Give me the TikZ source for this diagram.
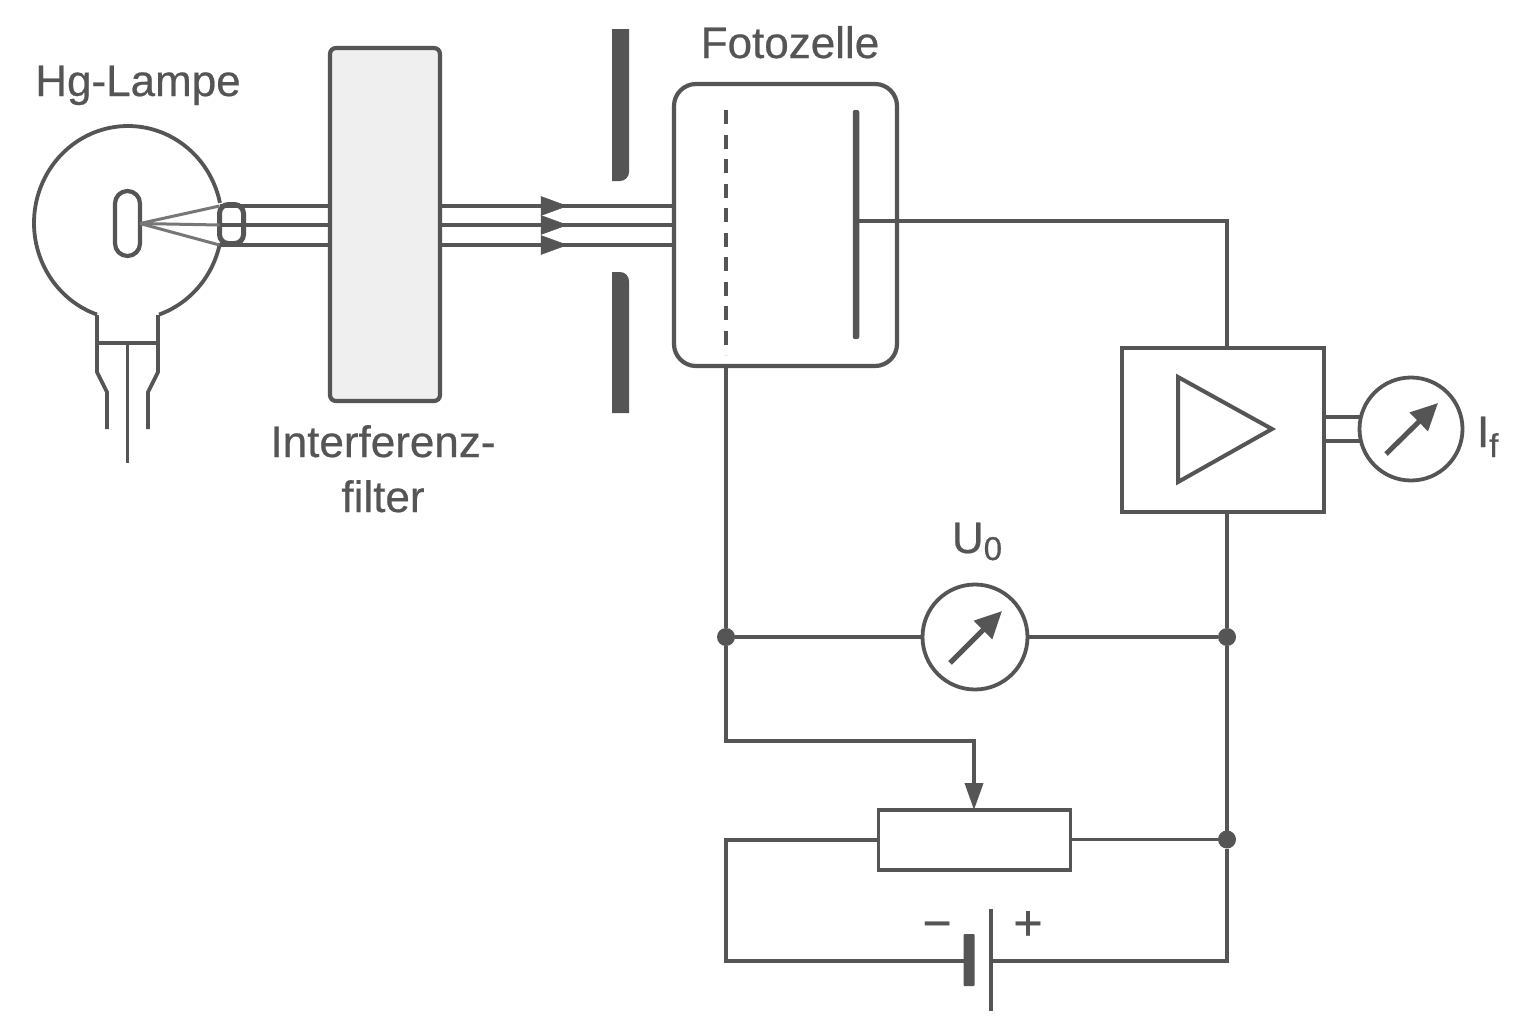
\documentclass[tikz,border=0pt]{standalone}
\usepackage{fontspec}
\setmainfont[FakeBold=0.5]{Liberation Sans}
\newfontfamily\labfont[FakeBold=0.5]{Liberation Sans}
\usetikzlibrary{arrows.meta}
\definecolor{ink}{HTML}{555555}
\definecolor{rayc}{HTML}{777777}
\definecolor{filterc}{HTML}{EFEFEF}
\tikzset{
  wire/.style={draw=ink,line width=3.8pt,line cap=butt,line join=miter},
  beam/.style={draw=ink,line width=3.4pt},
  ray/.style={draw=rayc,line width=3pt},
  box/.style={draw=ink,line width=4.2pt,inner sep=0pt,outer sep=0pt},
  plate/.style={fill=ink,inner sep=0pt,outer sep=0pt},
  dot/.style={circle,fill=ink,inner sep=0pt,outer sep=0pt,minimum size=18pt},
  meter/.style={circle,draw=ink,line width=3.8pt,inner sep=0pt,outer sep=0pt,fill=white,minimum size=104pt},
  needle/.style={draw=ink,line width=5pt,-{Triangle[length=27pt,width=25pt]}},
  head/.style={-{Triangle[length=27pt,width=18pt]}},
  lab/.style={text=ink,inner sep=0pt,outer sep=0pt,font=\labfont\fontsize{44}{55}\selectfont}
}
\begin{document}
\begin{tikzpicture}[x=1pt,y=-1pt]
\useasboundingbox (0,0) rectangle (1518,1036);
\fill[white] (0,0) rectangle (1518,1036);
% level coordinates of the beams
\coordinate (ya) at (0,206);
\coordinate (yb) at (0,225);
\coordinate (yc) at (0,245);
% filter
\node[box,fill=filterc,rounded corners=6pt,minimum width=110pt,minimum height=353pt] (filter) at (385,224.5) {};
% lamp bulb
\draw[wire,line join=round,smooth,samples=70,domain=109.3:348] plot ({128+94*cos(\x)},{223+97*sin(\x)});
\draw[wire,line join=round,smooth,samples=30,domain=12:70.7] plot ({128+94*cos(\x)},{223+97*sin(\x)});
\draw[wire,line join=round] (97,315) -- (97,316) -- (97,372) -- (107,392) -- (107,429);
\draw[wire,line join=round] (158,315) -- (158,316) -- (158,372) -- (148,392) -- (148,429);
\coordinate (neckL) at (97,343);
\coordinate (neckR) at (158,343);
\coordinate (stemtop) at (127.5,343);
\coordinate (stemend) at (127.5,463);
\draw[wire] (neckL) -- (neckR);
\draw[wire] (stemtop) -- (stemend);
\node[box,rounded corners=12.5pt,minimum width=25pt,minimum height=65pt] (electrode) at (127.5,223.5) {};
\node[box,line width=5pt,rounded corners=9pt,minimum width=24pt,minimum height=39pt] (lens) at (231.5,224) {};
% rays
\draw[ray] (electrode.east) -- (lens.west |- ya);
\draw[ray] (electrode.east) -- (lens.west |- yb);
\draw[ray] (electrode.east) -- (lens.west |- yc);
% photo cell
\node[box,rounded corners=22pt,minimum width=223pt,minimum height=282pt] (cell) at (785.5,225) {};
% beams
\foreach \l in {ya,yb,yc}{
  \draw[beam] (lens.west |- \l) -- (filter.west |- \l);
  \draw[beam] (filter.east |- \l) -- (cell.west |- \l);
  \draw[ink,fill=ink,line width=0.5pt,line join=miter] (541,0 |- \l) ++(0,-9.5) -- ++(26,9.5) -- ++(-26,9.5) -- cycle;
}
% slit
\fill[ink] (612,29) -- (629,29) [rounded corners=9pt] -- (629,181) [sharp corners] -- (612,181) -- cycle;
\fill[ink] (612,413) -- (629,413) [rounded corners=9pt] -- (629,272) [sharp corners] -- (612,272) -- cycle;
% cell electrodes
\coordinate (gridtop) at (726,110);
\coordinate (gridbot) at (726,355);
\draw[draw=ink,line width=3.8pt,dash pattern=on 14pt off 10.5pt] (gridtop) -- (gridbot);
\node[plate,rounded corners=2pt,minimum width=6.5pt,minimum height=229pt] (anode) at (856,224.5) {};
% amplifier
\node[box,minimum width=202pt,minimum height=164pt] (amp) at (1223,430) {};
\draw[draw=ink,line width=4pt,line join=miter] (1178,377) -- (1272,429) -- (1178,482) -- cycle;
\node[meter,minimum size=103pt] (mI) at (1411,429) {};
\draw[wire] (amp.east |- 0,417) -- (mI.west |- 0,417);
\draw[wire] (amp.east |- 0,441) -- (mI.west |- 0,441);
\coordinate (nIa) at (1386,454);
\coordinate (nIb) at (1438,403);
\draw[needle] (nIa) -- (nIb);
% nodes of the circuit
\coordinate (c1) at (1227,221);
\coordinate (ampin) at (1227,348);
\coordinate (ampout) at (1227,512);
\coordinate (c2) at (726,366);
\node[dot] (dL) at (726,637) {};
\node[dot] (dR) at (1227,637) {};
\node[dot] (dB) at (1227,839.5) {};
\node[meter,minimum size=105pt] (mU) at (975,637) {};
\coordinate (nUa) at (950,663);
\coordinate (nUb) at (1002,611);
\draw[needle] (nUa) -- (nUb);
\node[box,line width=3.6pt,minimum width=192pt,minimum height=60pt] (pot) at (974.5,840) {};
\coordinate (k1) at (726,741);
\coordinate (k2) at (974,741);
\coordinate (k3) at (726,840);
\coordinate (k4) at (726,961);
\coordinate (k5) at (1227,961);
\node[plate,rounded corners=1pt,minimum width=11pt,minimum height=52pt] (minusplate) at (969,960) {};
\node[plate,minimum width=4pt,minimum height=102pt] (plusplate) at (991,960) {};
\draw[wire] (anode.center |- c1) -- (c1) -- (ampin);
\draw[wire] (ampout) -- (dR);
\draw[wire] (dR) -- (dB);
\draw[wire] (c2) -- (dL);
\draw[wire] (dL) -- (mU);
\draw[wire] (mU) -- (dR);
\draw[wire,head] (dL) -- (k1) -- (k2) -- (pot.north -| k2);
\draw[wire] (pot.west |- k3) -- (k3) -- (k4) -- (minusplate.west |- k4);
\draw[wire] (plusplate.center |- k5) -- (k5) -- (dB);
\draw[wire] (pot.east |- dB) -- (dB);
% labels
\node[lab,anchor=base] (tH) at (138,96) {Hg-Lampe};
\node[lab,anchor=base] (tF) at (790,58) {Fotozelle};
\node[lab,anchor=base] (tI1) at (383,457) {Interferenz-};
\node[lab,anchor=base] (tI2) at (383,512) {filter};
\node[lab,anchor=base] (tU) at (977,553) {U\raisebox{-7pt}{\fontsize{33}{33}\selectfont 0}};
\node[lab,anchor=base west] (tIf) at (1477,447) {I\raisebox{-10pt}{\fontsize{33}{33}\selectfont f}};
\node[lab,anchor=base] (tm) at (937,940) {\fontsize{50}{50}\selectfont −};
\node[lab,anchor=base] (tp) at (1028,940) {\fontsize{50}{50}\selectfont +};
\end{tikzpicture}
\end{document}
